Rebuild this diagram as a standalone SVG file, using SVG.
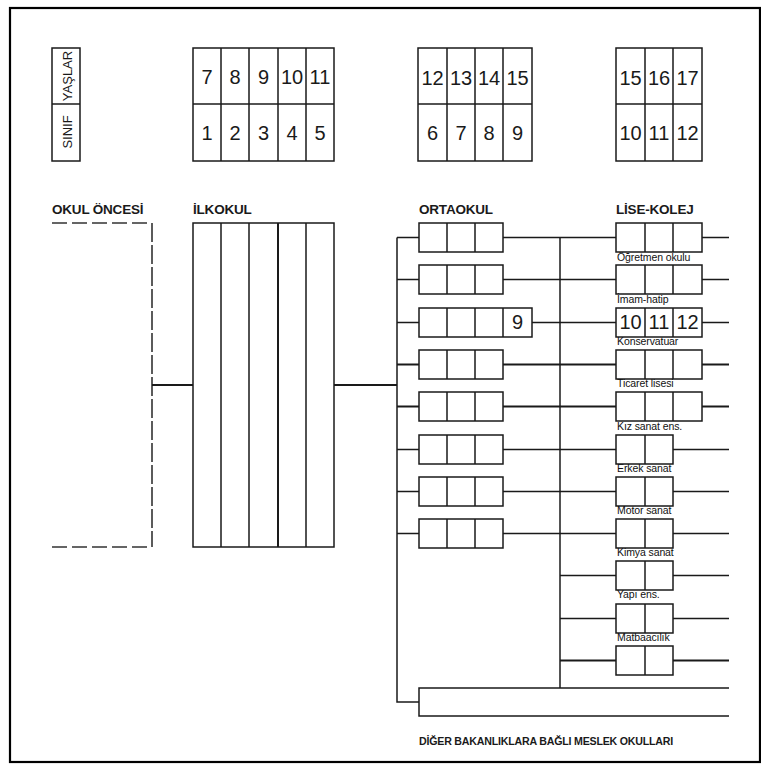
<svg xmlns="http://www.w3.org/2000/svg" width="761" height="764" viewBox="0 0 761 764">
<style>
.b{fill:none;stroke:#1a1a1a;stroke-width:1.5}
.t{stroke-width:2}
.d{fill:none;stroke:#333;stroke-width:1.6}
.n{font-family:"Liberation Sans",Arial,sans-serif;font-size:20px;fill:#1a1a1a;text-anchor:middle}
.h{font-family:"Liberation Sans",Arial,sans-serif;font-size:13.5px;font-weight:bold;fill:#1a1a1a;letter-spacing:-0.2px}
.l{font-family:"Liberation Sans",Arial,sans-serif;font-size:10.5px;fill:#111;letter-spacing:-0.1px}
.v{font-family:"Liberation Sans",Arial,sans-serif;font-size:13px;fill:#1a1a1a;text-anchor:middle}
</style>
<rect x="0" y="0" width="761" height="764" fill="#fff"/>
<rect x="10" y="8" width="750" height="754" fill="none" stroke="#000" stroke-width="2.2"/>

<g id="ages-legend">
<rect class="b" x="52" y="48" width="28" height="113"/>
<line class="b" x1="52" y1="104" x2="80" y2="104"/>
<text class="v" transform="translate(71.5,76) rotate(-90)">YAŞLAR</text>
<text class="v" transform="translate(71.5,132) rotate(-90)">SINIF</text>
</g>

<g id="ages-ilkokul">
<rect class="b" x="193" y="48" width="141" height="113"/>
<line class="b" x1="193" y1="104" x2="334" y2="104"/>
<path class="b" d="M221 48V161M249 48V161M278 48V161M306 48V161"/>
<text class="n" x="207" y="84">7</text><text class="n" x="235" y="84">8</text><text class="n" x="263.5" y="84">9</text><text class="n" x="292" y="84">10</text><text class="n" x="320" y="84">11</text>
<text class="n" x="207" y="140">1</text><text class="n" x="235" y="140">2</text><text class="n" x="263.5" y="140">3</text><text class="n" x="292" y="140">4</text><text class="n" x="320" y="140">5</text>
</g>

<g id="ages-ortaokul">
<rect class="b" x="418" y="48" width="114" height="113"/>
<line class="b" x1="418" y1="104" x2="532" y2="104"/>
<path class="b" d="M447 48V161M475 48V161M503 48V161"/>
<text class="n" x="432.5" y="85">12</text><text class="n" x="461" y="85">13</text><text class="n" x="489" y="85">14</text><text class="n" x="517.5" y="85">15</text>
<text class="n" x="432.5" y="140">6</text><text class="n" x="461" y="140">7</text><text class="n" x="489" y="140">8</text><text class="n" x="517.5" y="140">9</text>
</g>

<g id="ages-lise">
<rect class="b" x="616" y="48" width="86" height="113"/>
<line class="b" x1="616" y1="104" x2="702" y2="104"/>
<path class="b" d="M645 48V161M673 48V161"/>
<text class="n" x="630.5" y="85">15</text><text class="n" x="659" y="85">16</text><text class="n" x="687.5" y="85">17</text>
<text class="n" x="630.5" y="140">10</text><text class="n" x="659" y="140">11</text><text class="n" x="687.5" y="140">12</text>
</g>

<g id="okul-oncesi">
<text class="h" x="52" y="214">OKUL ÖNCESİ</text>
<path class="d" stroke-dasharray="15,5" d="M52 223H152"/>
<path class="d" stroke-dasharray="19,3" d="M152 223V547"/>
<path class="d" stroke-dasharray="15,5" d="M52 547H152"/>
</g>

<g id="ilkokul">
<text class="h" x="193" y="214">İLKOKUL</text>
<rect class="b" x="193" y="223" width="141" height="324"/>
<path class="b" d="M221 223V547M249 223V547M306 223V547"/>
<path class="b t" d="M278 223V547"/>
</g>

<g id="ortaokul">
<text class="h" x="419" y="214">ORTAOKUL</text>
<g id="o1"><rect class="b" x="419" y="223" width="84" height="29"/><path class="b" d="M447 223v29M475 223v29"/></g>
<g id="o2"><rect class="b" x="419" y="265" width="84" height="29"/><path class="b" d="M447 265v29M475 265v29"/></g>
<g id="o3"><rect class="b" x="419" y="308" width="113" height="29"/><path class="b" d="M447 308v29M475 308v29M503 308v29"/><text class="n" x="517.5" y="329">9</text></g>
<g id="o4"><rect class="b" x="419" y="350" width="84" height="29"/><path class="b" d="M447 350v29M475 350v29"/></g>
<g id="o5"><rect class="b" x="419" y="392" width="84" height="29"/><path class="b" d="M447 392v29M475 392v29"/></g>
<g id="o6"><rect class="b" x="419" y="435" width="84" height="29"/><path class="b" d="M447 435v29M475 435v29"/></g>
<g id="o7"><rect class="b" x="419" y="477" width="84" height="29"/><path class="b" d="M447 477v29M475 477v29"/></g>
<g id="o8"><rect class="b" x="419" y="519" width="84" height="29"/><path class="b" d="M447 519v29M475 519v29"/></g>
</g>

<g id="lise">
<text class="h" x="616" y="214">LİSE-KOLEJ</text>
<g id="l1"><rect class="b" x="616" y="223" width="86" height="29"/><path class="b" d="M645 223v29M673 223v29"/><text class="l" x="617" y="261">Öğretmen okulu</text></g>
<g id="l2"><rect class="b" x="616" y="265" width="86" height="29"/><path class="b" d="M645 265v29M673 265v29"/><text class="l" x="617" y="303">İmam-hatip</text></g>
<g id="l3"><rect class="b" x="616" y="308" width="86" height="29"/><path class="b" d="M645 308v29M673 308v29"/>
<text class="n" x="630.5" y="329">10</text><text class="n" x="659" y="329">11</text><text class="n" x="687.5" y="329">12</text><text class="l" x="617" y="345">Konservatuar</text></g>
<g id="l4"><rect class="b" x="616" y="350" width="86" height="29"/><path class="b" d="M645 350v29M673 350v29"/><text class="l" x="617" y="387">Ticaret lisesi</text></g>
<g id="l5"><rect class="b" x="616" y="392" width="86" height="29"/><path class="b" d="M645 392v29M673 392v29"/><text class="l" x="617" y="430">Kız sanat ens.</text></g>
<g id="l6"><rect class="b" x="616" y="435" width="57" height="29"/><path class="b" d="M645 435v29"/><text class="l" x="617" y="472">Erkek sanat</text></g>
<g id="l7"><rect class="b" x="616" y="477" width="57" height="29"/><path class="b" d="M645 477v29"/><text class="l" x="617" y="514">Motor sanat</text></g>
<g id="l8"><rect class="b" x="616" y="519" width="57" height="29"/><path class="b" d="M645 519v29"/><text class="l" x="617" y="556">Kimya sanat</text></g>
<g id="l9"><rect class="b" x="616" y="561" width="57" height="29"/><path class="b" d="M645 561v29"/><text class="l" x="617" y="598">Yapı ens.</text></g>
<g id="l10"><rect class="b" x="616" y="604" width="57" height="29"/><path class="b" d="M645 604v29"/><text class="l" x="617" y="641">Matbaacılık</text></g>
<g id="l11"><rect class="b" x="616" y="646" width="57" height="29"/><path class="b" d="M645 646v29"/></g>
</g>

<g id="diger">
<path class="b" d="M729 688H419V716H729"/>
<text class="h" x="419" y="745" style="font-size:10px" textLength="254" lengthAdjust="spacingAndGlyphs">DİĞER BAKANLIKLARA BAĞLI MESLEK OKULLARI</text>
</g>

<g id="connectors">
<path class="b t" d="M152 385H193M334 385H397"/>
<path class="b" d="M397 237.5V702H419"/>
<path class="b" d="M397 237.5H419M397 279.5H419M397 322.5H419"/>
<path class="b t" d="M397 364.5H419M397 406.5H419"/>
<path class="b" d="M397 449.5H419M397 491.5H419M397 533.5H419"/>
<path class="b" d="M560 237.5V688"/>
<path class="b" d="M503 237.5H616M503 279.5H616M532 322.5H616"/>
<path class="b t" d="M503 364.5H616M503 406.5H616"/>
<path class="b" d="M503 449.5H616M503 491.5H616M503 533.5H616"/>
<path class="b" d="M560 575.5H616M560 618.5H616"/>
<path class="b t" d="M560 660.5H616"/>
<path class="b" d="M702 237.5H729M702 279.5H729M702 322.5H729"/>
<path class="b t" d="M702 364.5H729M702 406.5H729"/>
<path class="b" d="M673 449.5H729M673 491.5H729M673 533.5H729M673 575.5H729M673 618.5H729"/>
<path class="b t" d="M673 660.5H729"/>
</g>
</svg>
